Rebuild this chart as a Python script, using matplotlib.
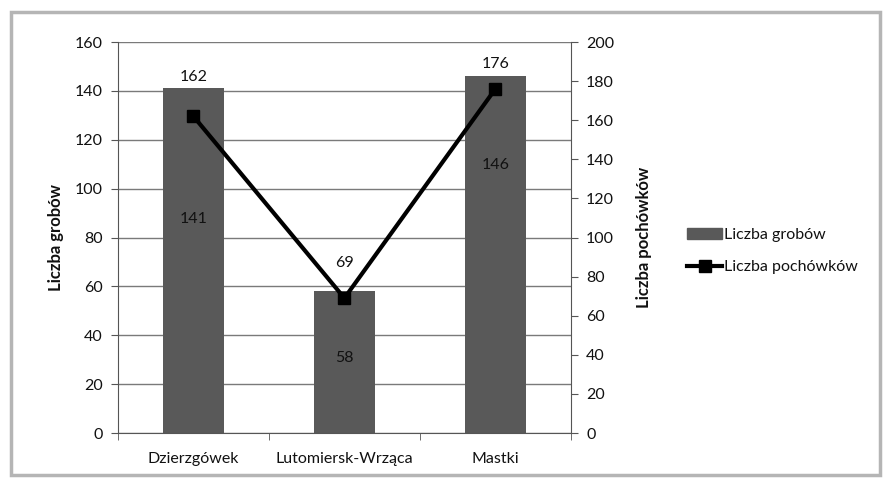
import matplotlib
matplotlib.use("Agg")
import matplotlib.pyplot as plt
from matplotlib.patches import Rectangle
from matplotlib.lines import Line2D
import numpy as np

categories = ["Dzierzgówek", "Lutomiersk-Wrząca", "Mastki"]
graves = [141, 58, 146]
burials = [162, 69, 176]
left_ticks = list(range(0, 161, 20))
right_ticks = list(range(0, 201, 20))

# label placement (styling only)
label_frac = [0.62, 0.53, 0.75]
line_label_offset = [28, 25, 18]

plt.rcParams['font.family'] = ['Lato', 'DejaVu Sans']
FS = 11.5
TXT = "#111111"

fig = plt.figure(figsize=(8.85, 4.83), dpi=100)
fig.patches.append(Rectangle((0.012, 0.017), 0.982, 0.958, transform=fig.transFigure,
                             fill=False, edgecolor="#b5b5b5", linewidth=2.5))
ax = fig.add_axes([0.1333, 0.1035, 0.5117, 0.8095])
x = np.arange(len(categories))
ax.bar(x, graves, width=0.4, color="#595959", zorder=2)
ax.set_xlim(-0.5, 2.5)
ax.set_ylim(0, 160)
ax.set_yticks(left_ticks)
ax.yaxis.grid(True, color="#7a7a7a", linewidth=1, zorder=0)
ax.set_axisbelow(True)
ax.set_xticks(x)
ax.set_xticklabels(categories, fontsize=FS, color=TXT)
ax.set_xticks([-0.5, 0.5, 1.5, 2.5], minor=True)
ax.tick_params(axis="x", which="major", length=0, pad=14)
ax.tick_params(axis="x", which="minor", length=5, color="#555555")
ax.tick_params(axis="y", labelsize=FS, labelcolor=TXT, length=5, color="#555555", pad=6)
for s in ["top", "right"]:
    ax.spines[s].set_visible(False)
ax.spines["left"].set_color("#555555")
ax.spines["bottom"].set_color("#555555")
ax.set_ylabel("Liczba grobów", fontsize=12, fontweight="bold", labelpad=8, color=TXT)
for xi, v, f in zip(x, graves, label_frac):
    ax.text(xi, v * f, str(v), ha="center", va="center", fontsize=FS, color=TXT, zorder=5)

ax2 = ax.twinx()
ax2.plot(x, burials, color="black", linewidth=3, marker="s", markersize=9, zorder=4)
ax2.set_ylim(0, 200)
ax2.set_yticks(right_ticks)
ax2.tick_params(axis="y", labelsize=FS, labelcolor=TXT, length=5, color="#555555", pad=6)
for s in ["top", "left", "bottom"]:
    ax2.spines[s].set_visible(False)
ax2.spines["right"].set_color("#555555")
ax2.set_ylabel("Liczba pochówków", fontsize=12, fontweight="bold", labelpad=16, color=TXT)
for xi, v, off in zip(x, burials, line_label_offset):
    ax2.annotate(str(v), (xi, v), xytext=(0, off), textcoords="offset points",
                 ha="center", va="center", fontsize=FS, color=TXT)

handles = [Rectangle((0, 0), 1, 1, color="#595959"),
           Line2D([], [], color="black", linewidth=3, marker="s", markersize=9)]
leg = fig.legend(handles, ["Liczba grobów", "Liczba pochówków"], loc="center left",
                 bbox_to_anchor=(0.76, 0.48), frameon=False, fontsize=FS,
                 handlelength=2.2, handletextpad=0.1, labelspacing=1.1)
for t in leg.get_texts():
    t.set_color(TXT)

fig.savefig("out.png", dpi=100)
